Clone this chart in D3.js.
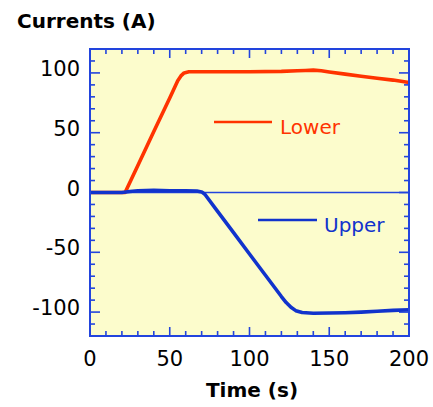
<!DOCTYPE html>
<html><head><meta charset="utf-8">
<script src="https://cdn.jsdelivr.net/npm/d3@7"></script>
<style>body{margin:0;background:#fff}svg{display:block}text{font-family:"Comic Sans MS","DejaVu Sans",sans-serif}</style>
</head><body>
<script>
const lowerT = [0,10,20,22,30,40,50,55,57,59,62,70,80,100,120,130,135,140,145,150,160,170,180,190,200];
const lowerV = [0,0,0,0,22.6,51,79,93.5,97.5,100,101,101,101,101,101.3,101.8,102,102.3,101.8,100.8,99,97.2,95.6,94,92];
const upperT = [0,20,25,30,40,50,60,67,70,72,80,90,100,110,120,123,126,129,133,140,150,160,170,180,190,200];
const upperV = [0,0,0.8,1.5,1.8,1.5,1.5,1.2,0.5,-1.5,-15.8,-33.6,-51.4,-69.2,-87,-92,-96,-98.8,-100.3,-101,-100.8,-100.5,-100,-99.3,-98.6,-98];
const xTicks = [0,50,100,150,200];
const yTicks = [-100,-50,0,50,100];
const seriesNames = ["Lower","Upper"];
const colors = ["#ff3300","#1133cc"];

const W=433,H=407;
const svg=d3.select("body").append("svg").attr("width",W).attr("height",H);
const x=d3.scaleLinear().domain([0,200]).range([90,409]);
const y=d3.scaleLinear().domain([-120,120]).range([336,49]);
const axisCol="#2244dd";

svg.append("rect").attr("x",x(0)).attr("y",y(120)).attr("width",x(200)-x(0)).attr("height",y(-120)-y(120)).attr("fill","#fcfccc");

// zero line
svg.append("line").attr("x1",x(0)).attr("x2",x(200)).attr("y1",y(0)).attr("y2",y(0)).attr("stroke",axisCol).attr("stroke-width",1.5);

// ticks on all four sides
const minorX=d3.range(0,201,10), minorY=d3.range(-120,121,10);
const tg=svg.append("g").attr("stroke",axisCol).attr("stroke-width",1.6);
minorX.forEach(v=>{const L=v%50===0?9:5;
  tg.append("line").attr("x1",x(v)).attr("x2",x(v)).attr("y1",y(-120)).attr("y2",y(-120)-L);
  tg.append("line").attr("x1",x(v)).attr("x2",x(v)).attr("y1",y(120)).attr("y2",y(120)+L);});
minorY.forEach(v=>{const L=v%50===0?10:5;
  tg.append("line").attr("x1",x(0)).attr("x2",x(0)+L).attr("y1",y(v)).attr("y2",y(v));
  tg.append("line").attr("x1",x(200)).attr("x2",x(200)-L).attr("y1",y(v)).attr("y2",y(v));});

const line=d3.line().x(d=>x(d[0])).y(d=>y(d[1])).curve(d3.curveLinear);
const series=[d3.zip(lowerT,lowerV), d3.zip(upperT,upperV)];
series.forEach((s,i)=>{
  svg.append("path").datum(s).attr("d",line).attr("fill","none").attr("stroke",colors[i]).attr("stroke-width",3.6).attr("stroke-linejoin","round");
});

svg.append("rect").attr("x",x(0)).attr("y",y(120)).attr("width",x(200)-x(0)).attr("height",y(-120)-y(120)).attr("fill","none").attr("stroke",axisCol).attr("stroke-width",2);

// legend
const leg=[{x1:214,x2:272,y:122,tx:280,ty:134},{x1:258,x2:317,y:220,tx:324,ty:232}];
leg.forEach((l,i)=>{
  svg.append("line").attr("x1",l.x1).attr("x2",l.x2).attr("y1",l.y).attr("y2",l.y).attr("stroke",colors[i]).attr("stroke-width",2.5);
  svg.append("text").attr("x",l.tx).attr("y",l.ty).attr("fill",colors[i]).attr("font-size",20).text(seriesNames[i]);
});

// tick labels
svg.selectAll(".xl").data(xTicks).enter().append("text").attr("x",d=>x(d)).attr("y",366).attr("text-anchor","middle").attr("font-size",21).attr("fill","#000").text(d=>d);
svg.selectAll(".yl").data(yTicks).enter().append("text").attr("x",80).attr("y",d=>y(d)+3).attr("text-anchor","end").attr("font-size",21).attr("fill","#000").text(d=>d);

svg.append("text").attr("x",17).attr("y",28).attr("font-size",20).attr("font-weight","bold").text("Currents (A)");
svg.append("text").attr("x",252).attr("y",397).attr("text-anchor","middle").attr("font-size",20).attr("font-weight","bold").text("Time (s)");
</script>
</body></html>
